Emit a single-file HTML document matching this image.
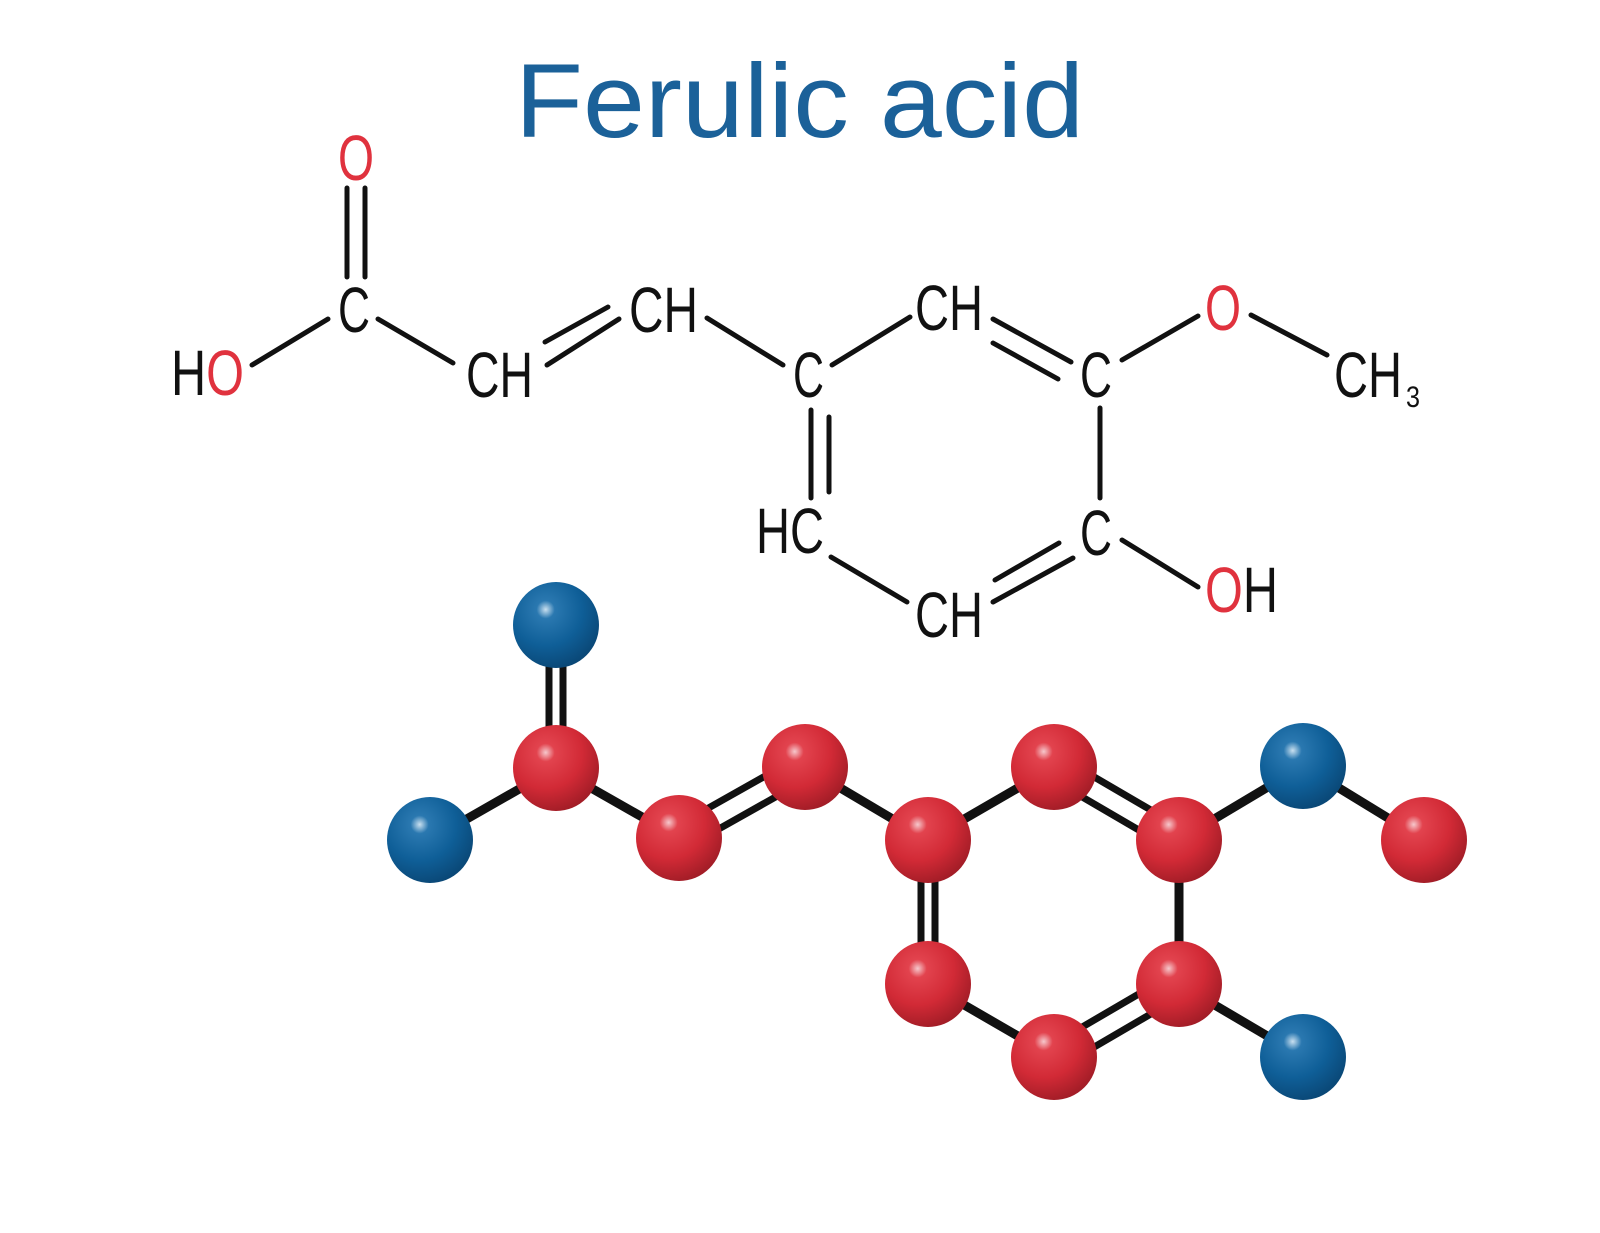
<!DOCTYPE html>
<html><head><meta charset="utf-8"><style>
html,body{margin:0;padding:0;background:#fff;}
svg{display:block;}
text{font-family:"Liberation Sans",sans-serif;}
</style></head><body>
<svg width="1600" height="1233" viewBox="0 0 1600 1233" xmlns="http://www.w3.org/2000/svg">
<defs>
<radialGradient id="r" cx="0.38" cy="0.32" r="0.7">
<stop offset="0" stop-color="#f6c8cc"/><stop offset="0.15" stop-color="#e2434e"/><stop offset="0.6" stop-color="#d22a36"/><stop offset="1" stop-color="#a31d27"/>
</radialGradient>
<radialGradient id="b" cx="0.38" cy="0.32" r="0.7">
<stop offset="0" stop-color="#c9e0f0"/><stop offset="0.15" stop-color="#2a78b0"/><stop offset="0.6" stop-color="#0f5f98"/><stop offset="1" stop-color="#0a4877"/>
</radialGradient>
</defs>
<text x="515" y="137" font-size="105" fill="#1b6199" textLength="569" lengthAdjust="spacingAndGlyphs">Ferulic acid</text>

<g stroke="#111" stroke-width="5" stroke-linecap="round" fill="none">
<line x1="347" y1="188" x2="347" y2="277"/><line x1="365" y1="188" x2="365" y2="277"/>
<line x1="252" y1="365" x2="328" y2="319"/>
<line x1="378" y1="319" x2="453" y2="363"/>
<line x1="545" y1="342" x2="608" y2="307"/><line x1="547" y1="365" x2="619" y2="319"/>
<line x1="707" y1="318" x2="783" y2="365"/>
<line x1="832" y1="365" x2="910" y2="317"/>
<line x1="993" y1="319" x2="1071" y2="362"/><line x1="993" y1="343" x2="1058" y2="379"/>
<line x1="1122" y1="360" x2="1198" y2="316"/>
<line x1="1251" y1="315" x2="1327" y2="355"/>
<line x1="811" y1="410" x2="811" y2="498"/><line x1="829" y1="417" x2="829" y2="492"/>
<line x1="1100" y1="408" x2="1100" y2="498"/>
<line x1="831" y1="557" x2="907" y2="602"/>
<line x1="993" y1="602" x2="1073" y2="558"/><line x1="995" y1="580" x2="1059" y2="543"/>
<line x1="1122" y1="540" x2="1198" y2="587"/>
</g>
<g font-size="64" fill="#111">
<text x="338" y="180" fill="#e0323e" textLength="36" lengthAdjust="spacingAndGlyphs">O</text>
<text x="338" y="332" textLength="32" lengthAdjust="spacingAndGlyphs">C</text>
<text x="171" y="395" textLength="73" lengthAdjust="spacingAndGlyphs">H<tspan fill="#e0323e">O</tspan></text>
<text x="466" y="397" textLength="67" lengthAdjust="spacingAndGlyphs">CH</text>
<text x="629" y="332" textLength="69" lengthAdjust="spacingAndGlyphs">CH</text>
<text x="793" y="397" textLength="31" lengthAdjust="spacingAndGlyphs">C</text>
<text x="915" y="330" textLength="68" lengthAdjust="spacingAndGlyphs">CH</text>
<text x="1080" y="397" textLength="32" lengthAdjust="spacingAndGlyphs">C</text>
<text x="1205" y="330" fill="#e0323e" textLength="36" lengthAdjust="spacingAndGlyphs">O</text>
<text x="1334" y="397" textLength="68" lengthAdjust="spacingAndGlyphs">CH</text>
<text x="1406" y="407" font-size="30" textLength="14" lengthAdjust="spacingAndGlyphs">3</text>
<text x="756" y="553" textLength="68" lengthAdjust="spacingAndGlyphs">HC</text>
<text x="1080" y="555" textLength="32" lengthAdjust="spacingAndGlyphs">C</text>
<text x="915" y="637" textLength="68" lengthAdjust="spacingAndGlyphs">CH</text>
<text x="1205" y="612" textLength="73" lengthAdjust="spacingAndGlyphs"><tspan fill="#e0323e">O</tspan>H</text>
</g>

<g stroke="#111" stroke-linecap="butt">
<line x1="549" y1="625" x2="549" y2="768" stroke-width="7"/><line x1="563" y1="625" x2="563" y2="768" stroke-width="7"/>
<line x1="430" y1="840" x2="556" y2="768" stroke-width="9"/>
<line x1="556" y1="768" x2="679" y2="838" stroke-width="9"/>
<line x1="673" y1="828" x2="799" y2="757" stroke-width="7"/><line x1="685" y1="848" x2="811" y2="777" stroke-width="7"/>
<line x1="805" y1="767" x2="928" y2="840" stroke-width="9"/>
<line x1="928" y1="840" x2="1054" y2="767" stroke-width="9"/>
<line x1="1048" y1="777" x2="1173" y2="850" stroke-width="7"/><line x1="1060" y1="757" x2="1185" y2="830" stroke-width="7"/>
<line x1="1179" y1="840" x2="1303" y2="766" stroke-width="9"/>
<line x1="1303" y1="766" x2="1424" y2="840" stroke-width="9"/>
<line x1="921" y1="840" x2="921" y2="984" stroke-width="7"/><line x1="935" y1="840" x2="935" y2="984" stroke-width="7"/>
<line x1="1179" y1="840" x2="1179" y2="984" stroke-width="9"/>
<line x1="928" y1="984" x2="1054" y2="1057" stroke-width="9"/>
<line x1="1048" y1="1047" x2="1173" y2="974" stroke-width="7"/><line x1="1060" y1="1067" x2="1185" y2="994" stroke-width="7"/>
<line x1="1179" y1="984" x2="1303" y2="1057" stroke-width="9"/>
</g>
<g>
<circle cx="556" cy="625" r="43" fill="url(#b)"/>
<circle cx="430" cy="840" r="43" fill="url(#b)"/>
<circle cx="1303" cy="766" r="43" fill="url(#b)"/>
<circle cx="1303" cy="1057" r="43" fill="url(#b)"/>
<circle cx="556" cy="768" r="43" fill="url(#r)"/>
<circle cx="679" cy="838" r="43" fill="url(#r)"/>
<circle cx="805" cy="767" r="43" fill="url(#r)"/>
<circle cx="928" cy="840" r="43" fill="url(#r)"/>
<circle cx="1054" cy="767" r="43" fill="url(#r)"/>
<circle cx="1179" cy="840" r="43" fill="url(#r)"/>
<circle cx="1424" cy="840" r="43" fill="url(#r)"/>
<circle cx="928" cy="984" r="43" fill="url(#r)"/>
<circle cx="1179" cy="984" r="43" fill="url(#r)"/>
<circle cx="1054" cy="1057" r="43" fill="url(#r)"/>
</g>
</svg>
</body></html>
